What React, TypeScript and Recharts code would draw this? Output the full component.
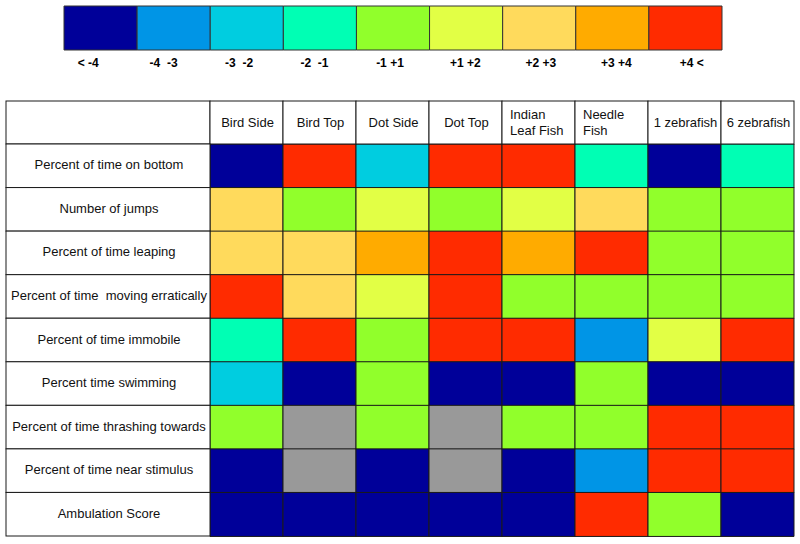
import React from "react";
import { BarChart, Bar, XAxis, YAxis, Cell } from "recharts";

const FONT = "'Liberation Sans', Arial, Helvetica, sans-serif";

const BIN_LABELS = ["< -4", "-4  -3", "-3  -2", "-2  -1", "-1 +1", "+1 +2", "+2 +3", "+3 +4", "+4 <"];
const BIN_COLORS = ["#000099", "#0095e6", "#00cde0", "#00ffb4", "#91ff2b", "#e2ff45", "#ffda5c", "#ffab00", "#ff2b00"];
const NO_DATA = "#999999";

const STIMULI = ["Bird Side", "Bird Top", "Dot Side", "Dot Top", "Indian\nLeaf Fish", "Needle\nFish", "1 zebrafish", "6 zebrafish"];
const MEASURES = [
  "Percent of time on bottom",
  "Number of jumps",
  "Percent of time leaping",
  "Percent of time  moving erratically",
  "Percent of time immobile",
  "Percent time swimming",
  "Percent of time thrashing towards",
  "Percent of time near stimulus",
  "Ambulation Score",
];
// bin index (into BIN_LABELS) per measure x stimulus, null = not scored (grey)
const SCORES: (number | null)[][] = [
  [0, 8, 2, 8, 8, 3, 0, 3],
  [6, 4, 5, 4, 5, 6, 4, 4],
  [6, 6, 7, 8, 7, 8, 4, 4],
  [8, 6, 5, 8, 4, 4, 4, 4],
  [3, 8, 4, 8, 8, 1, 5, 8],
  [2, 0, 4, 0, 0, 4, 0, 0],
  [4, null, 4, null, 4, 4, 8, 8],
  [0, null, 0, null, 0, 1, 8, 8],
  [0, 0, 0, 0, 0, 8, 4, 0],
];

// legend strip: one row, one unit segment per bin
const legendData = [BIN_LABELS.reduce((o: any, _, i) => ({ ...o, [`b${i}`]: 1 }), { name: "scale" })];
const legendTicks = BIN_LABELS.map((_, i) => i + 0.5);

// table: one row per measure, one unit segment per stimulus
const tableData = MEASURES.map((m) => STIMULI.reduce((o: any, _, j) => ({ ...o, [`c${j}`]: 1 }), { measure: m }));
const colTicks = STIMULI.map((_, j) => j + 0.5);

const Y_W = 204;
const HEADER_H = 43;
const T_MARGIN = { top: 9, right: 6, bottom: 8, left: 6 };
const T_W = 800, T_H = 452;
const COL_W = (T_W - T_MARGIN.left - T_MARGIN.right - Y_W) / STIMULI.length;
const ROW_H = (T_H - T_MARGIN.top - T_MARGIN.bottom - HEADER_H) / MEASURES.length;
const LINE = "#1a1a1a";

const LegendTick = (p: any) => (
  <text x={p.x} y={p.y} dy="0.71em" textAnchor="middle" fontFamily={FONT} fontSize={12} fontWeight="bold" fill="#000" style={{ whiteSpace: "pre" }}>
    {BIN_LABELS[p.index]}
  </text>
);

const HeaderTick = (p: any) => {
  const lines = STIMULI[p.index].split("\n");
  const left = p.x - COL_W / 2;
  const top = p.y - HEADER_H;
  const mid = top + HEADER_H / 2;
  return (
    <g>
      {p.index === 0 && <rect x={left - Y_W} y={top} width={Y_W} height={HEADER_H} fill="#fff" stroke={LINE} />}
      <rect x={left} y={top} width={COL_W} height={HEADER_H} fill="#fff" stroke={LINE} />
      {lines.length === 1 ? (
        <text x={p.x + 1} y={mid} dy="0.35em" textAnchor="middle" fontFamily={FONT} fontSize={13} fill="#111">{lines[0]}</text>
      ) : (
        lines.map((l: string, k: number) => (
          <text key={k} x={left + 8} y={mid + (k - (lines.length - 1) / 2) * 15.4} dy="0.35em" textAnchor="start" fontFamily={FONT} fontSize={13} fill="#111">{l}</text>
        ))
      )}
    </g>
  );
};

const RowTick = (p: any) => (
  <g>
    <rect x={p.x - Y_W} y={p.y - ROW_H / 2} width={Y_W} height={ROW_H} fill="#fff" stroke={LINE} />
    <text x={p.x - Y_W / 2 + 1} y={p.y - 1} dy="0.35em" textAnchor="middle" fontFamily={FONT} fontSize={13} fill="#111" style={{ whiteSpace: "pre" }}>
      {p.payload.value}
    </text>
  </g>
);

export default function App() {
  return (
    <div style={{ position: "absolute", top: 0, left: 0, width: 800, height: 544, background: "#fff" }}>
      <BarChart width={800} height={92} data={legendData} layout="vertical" margin={{ top: 6, right: 78, bottom: 12, left: 64 }} barCategoryGap={0}>
        <XAxis xAxisId="lbl" type="number" domain={[0.18, 8.9]} allowDataOverflow ticks={legendTicks} interval={0} height={30}
          tickSize={0} tickMargin={8} axisLine={false} tickLine={false} tick={<LegendTick />} />
        <XAxis xAxisId={0} type="number" domain={[0, 9]} height={0} hide />
        <YAxis type="category" dataKey="name" hide />
        {BIN_COLORS.map((c, i) => (
          <Bar key={i} xAxisId={0} dataKey={`b${i}`} stackId="s" fill={c} stroke="#333" isAnimationActive={false} />
        ))}
      </BarChart>
      <BarChart width={T_W} height={T_H} data={tableData} layout="vertical" margin={T_MARGIN} barCategoryGap={0}>
        <XAxis type="number" domain={[0, STIMULI.length]} ticks={colTicks} interval={0} orientation="top" height={HEADER_H}
          tickSize={0} tickMargin={0} axisLine={false} tickLine={false} tick={<HeaderTick />} />
        <YAxis type="category" dataKey="measure" width={Y_W} interval={0}
          tickSize={0} tickMargin={0} axisLine={false} tickLine={false} tick={<RowTick />} />
        {STIMULI.map((_, j) => (
          <Bar key={j} dataKey={`c${j}`} stackId="t" stroke={LINE} isAnimationActive={false}>
            {SCORES.map((row, i) => (
              <Cell key={i} fill={row[j] == null ? NO_DATA : BIN_COLORS[row[j] as number]} />
            ))}
          </Bar>
        ))}
      </BarChart>
    </div>
  );
}
